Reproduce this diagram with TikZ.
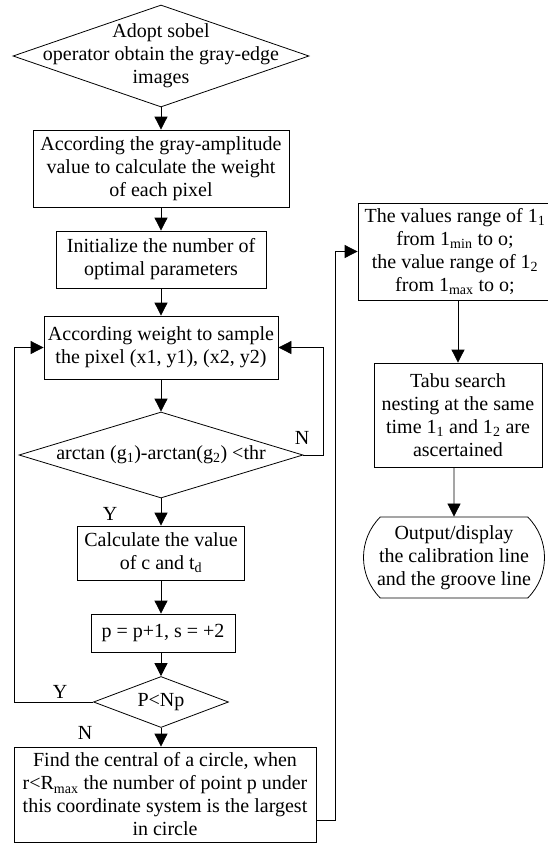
\documentclass[tikz,border=0pt]{standalone}
\usepackage{fontspec}
\setmainfont{Liberation Serif}
\usetikzlibrary{shapes.geometric,shapes.misc,arrows.meta}

\begin{document}
\begin{tikzpicture}[x=1pt,y=-1pt,line width=0.8pt,
    font=\fontsize{20}{23}\selectfont,
    box/.style={draw,rectangle,align=center,inner sep=0pt},
    dia/.style={draw,diamond,inner sep=0pt},
    term/.style={draw,rounded rectangle,rounded rectangle arc length=90,align=center,inner sep=0pt},
    arr/.style={-{Triangle[length=13pt,width=13pt]}}]
  \useasboundingbox (0,0) rectangle (548,844);
  % main column
  \node[dia,minimum width=296pt,minimum height=102pt,
     label={[align=center]center:{Adopt sobel\\operator obtain the gray-edge\\images}}] (d1) at (161,56) {};
  \node[box,minimum width=256pt,minimum height=77pt] (b1) at (161,168.5)
     {According the gray-amplitude\\value to calculate the weight\\of each pixel};
  \node[box,minimum width=210pt,minimum height=57pt] (b2) at (161,259.5)
     {Initialize the number of\\optimal parameters};
  \node[box,minimum width=234pt,minimum height=63pt] (b3) at (161,347.5)
     {According weight to sample\\the pixel (x1, y1), (x2, y2)};
  \node[dia,minimum width=284pt,minimum height=86pt,
     label={center:{arctan (g\textsubscript{1})-arctan(g\textsubscript{2}) <thr}}] (d2) at (161,455) {};
  \node[box,minimum width=167pt,minimum height=54pt] (b4) at (161,553)
     {Calculate the value\\of c and t\textsubscript{d}};
  \node[box,minimum width=144pt,minimum height=38pt] (b5) at (163,633) {p = p+1, s = +2};
  \node[dia,minimum width=135pt,minimum height=51pt,label={center:P<Np}] (d3) at (161,702) {};
  \node[box,minimum width=302pt,minimum height=95pt] (b6) at (165,794.5)
     {Find the central of a circle, when\\r<R\textsubscript{max} the number of point p under\\this coordinate system is the largest\\in circle};
  % right column
  \node[box,minimum width=194pt,minimum height=97pt] (r1) at (455,251.5)
     {The values range of 1\textsubscript{1}\\from 1\textsubscript{min} to o;\\the value range of 1\textsubscript{2}\\from 1\textsubscript{max} to o;};
  \node[box,minimum width=168pt,minimum height=104pt] (r2) at (458,415)
     {Tabu search\\nesting at the same\\time 1\textsubscript{1} and 1\textsubscript{2} are\\ascertained};
  \node[term,minimum width=181pt,minimum height=81pt] (r3) at (454,557.5)
     {Output/display\\the calibration line\\and the groove line};
  % labels
  \node (y1) at (110,514) {Y};
  \node (n1) at (302,438) {N};
  \node (y2) at (60,692) {Y};
  \node (n2) at (85,733) {N};
  % connectors
  \draw[arr] (d1) -- (b1);
  \draw[arr] (b1) -- (b2);
  \draw[arr] (b2) -- (b3);
  \draw[arr] (b3) -- (d2);
  \draw[arr] (d2) -- (b4);
  \draw[arr] (b4) -- (b5.north -| b4);
  \draw[arr] (b5.south -| d3) -- (d3);
  \draw[arr] (d3) -- (b6.north -| d3);
  \draw[arr] (d2.east) -- ++(20,0) |- (b3.east);
  \draw[arr] (d3.west) -- ++(-79,0) |- (b3.west);
  \draw[arr] ([yshift=-25.5pt]b6.east) -- ++(19,0) |- (r1.west);
  \draw[arr] (r1.south -| r2) -- (r2);
  \draw[arr] (r2.south -| r3) -- (r3);
\end{tikzpicture}
\end{document}
